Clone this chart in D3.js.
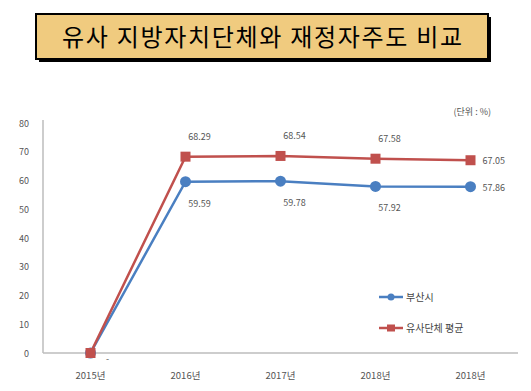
<!DOCTYPE html>
<html><head><meta charset="utf-8">
<script src="https://cdn.jsdelivr.net/npm/d3@7"></script>
<style>body{margin:0;background:#fff}svg{display:block}</style>
</head><body>
<script>
const categories = ["2015년","2016년","2017년","2018년","2018년"];
const busan = [0, 59.59, 59.78, 57.92, 57.86];
const avg = [0, 68.29, 68.54, 67.58, 67.05];
const busanLabels = ["-", "59.59", "59.78", "57.92", "57.86"];
const avgLabels = ["", "68.29", "68.54", "67.58", "67.05"];
const yTicks = [0,10,20,30,40,50,60,70,80];
const title = "유사 지방자치단체와 재정자주도 비교";
const seriesNames = ["부산시","유사단체 평균"];

const W=531,H=391;
const svg=d3.select("body").append("svg").attr("width",W).attr("height",H);
const font="'Noto Sans CJK KR','Malgun Gothic',sans-serif";

// title box
svg.append("rect").attr("x",39).attr("y",17).attr("width",452).attr("height",45).attr("fill","#000");
svg.append("rect").attr("x",36).attr("y",14).attr("width",452).attr("height",45).attr("fill","#F0CB7F").attr("stroke","#000").attr("stroke-width",2);
svg.append("text").attr("x",62).attr("y",46).attr("font-family",font).attr("font-size",24).attr("fill","#000")
  .attr("textLength",400).attr("lengthAdjust","spacing").text(title);

const x=d3.scaleBand().domain(d3.range(categories.length)).range([43,518]);
const y=d3.scaleLinear().domain([0,80]).range([353,123]);
const cx=i=>x(i)+x.bandwidth()/2;

// axes
const g=svg.append("g");
g.append("line").attr("x1",43).attr("x2",43).attr("y1",y(80)-3).attr("y2",y(0)).attr("stroke","#bdbdbd").attr("stroke-width",1.5);
g.append("line").attr("x1",43).attr("x2",518).attr("y1",y(0)).attr("y2",y(0)).attr("stroke","#bdbdbd").attr("stroke-width",1.5);
g.selectAll(".yt").data(yTicks).join("text").attr("x",29).attr("y",d=>y(d)+3.5).attr("text-anchor","end")
 .attr("font-family",font).attr("font-size",9).attr("fill","#555").text(d=>d);
g.selectAll(".xt").data(categories).join("text").attr("x",(d,i)=>cx(i)).attr("y",379).attr("text-anchor","middle")
 .attr("font-family",font).attr("font-size",9.5).attr("fill","#555").text(d=>d);

svg.append("text").attr("x",491).attr("y",115).attr("text-anchor","end").attr("font-family",font).attr("font-size",9).attr("fill","#555").text("(단위 : %)");

const line=d3.line().x((d,i)=>cx(i)).y(d=>y(d));
const blue="#4a7fc1", red="#c0504d";
svg.append("path").datum(busan).attr("d",line).attr("fill","none").attr("stroke",blue).attr("stroke-width",2.5);
svg.append("path").datum(avg).attr("d",line).attr("fill","none").attr("stroke",red).attr("stroke-width",2.5);
svg.selectAll(".bm").data(busan).join("circle").attr("cx",(d,i)=>cx(i)).attr("cy",d=>y(d)).attr("r",5.5).attr("fill",blue);
svg.selectAll(".rm").data(avg).join("rect").attr("x",(d,i)=>cx(i)-5).attr("y",d=>y(d)-5).attr("width",10).attr("height",10).attr("fill",red);

// data labels
const lab=svg.append("g").attr("font-family",font).attr("font-size",9).attr("fill","#555");
avgLabels.forEach((t,i)=>{ if(!t) return;
  const last=i===avgLabels.length-1;
  lab.append("text").attr("x",last?cx(i)+12:cx(i)+14).attr("y",last?y(avg[i])+4:y(avg[i])-17)
   .attr("text-anchor",last?"start":"middle").text(t);
});
busanLabels.forEach((t,i)=>{
  const last=i===busanLabels.length-1;
  if(i===0){lab.append("text").attr("x",cx(i)+17).attr("y",y(0)+9).attr("text-anchor","middle").text(t);return;}
  lab.append("text").attr("x",last?cx(i)+12:cx(i)+14).attr("y",last?y(busan[i])+4:y(busan[i])+25)
   .attr("text-anchor",last?"start":"middle").text(t);
});

// legend
const lg=svg.append("g");
[[blue,297],[red,328]].forEach(([c,ly],k)=>{
  lg.append("line").attr("x1",379).attr("x2",403).attr("y1",ly).attr("y2",ly).attr("stroke",c).attr("stroke-width",2.5);
  if(k===0) lg.append("circle").attr("cx",391).attr("cy",ly).attr("r",3.5).attr("fill",c);
  else lg.append("rect").attr("x",387).attr("y",ly-3.5).attr("width",8).attr("height",7).attr("fill",c);
  lg.append("text").attr("x",406).attr("y",ly+4).attr("font-family",font).attr("font-size",10).attr("fill","#444").text(seriesNames[k]);
});
</script>
</body></html>
